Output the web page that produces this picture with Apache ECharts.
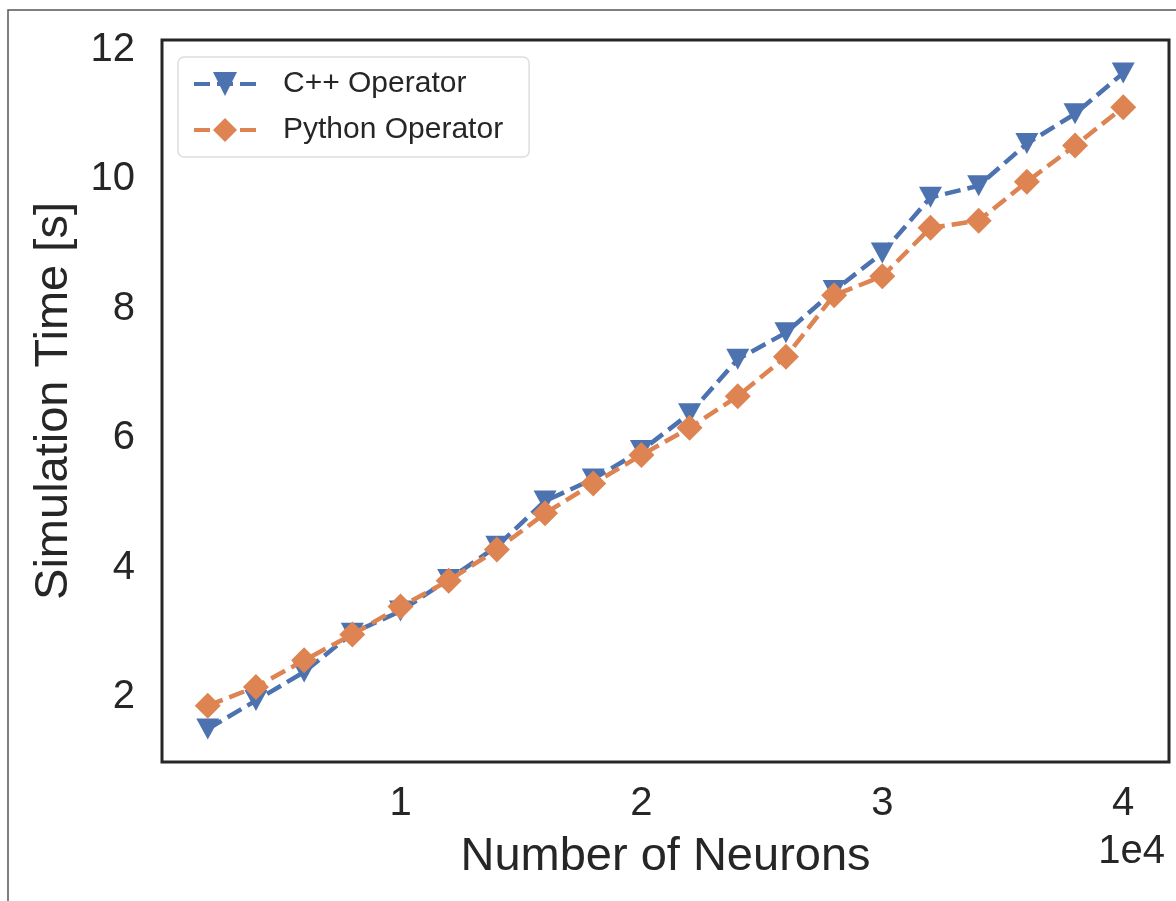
<!DOCTYPE html>
<html>
<head>
<meta charset="utf-8">
<title>Simulation Time vs Number of Neurons</title>
<script src="https://cdn.jsdelivr.net/npm/echarts@6/dist/echarts.min.js"></script>
<style>
  html, body { margin: 0; padding: 0; background: #ffffff; }
  #chart { width: 1176px; height: 901px; }
</style>
</head>
<body>
<div id="chart"></div>
<script>
// Network sizes and measured simulation times
const neurons = [2000, 4000, 6000, 8000, 10000, 12000, 14000, 16000, 18000, 20000,
                 22000, 24000, 26000, 28000, 30000, 32000, 34000, 36000, 38000, 40000];
const cppTime = [1.51, 1.95, 2.39, 2.99, 3.33, 3.82, 4.33, 5.03, 5.37, 5.81,
                 6.38, 7.22, 7.63, 8.28, 8.86, 9.72, 9.90, 10.55, 11.01, 11.64];
const pyTime  = [1.87, 2.16, 2.57, 2.97, 3.40, 3.80, 4.28, 4.84, 5.30, 5.74,
                 6.16, 6.65, 7.26, 8.21, 8.50, 9.25, 9.36, 9.96, 10.52, 11.11];
const xTicks = [10000, 20000, 30000, 40000];
const yTicks = [2, 4, 6, 8, 10, 12];
const seriesNames = ['C++ Operator', 'Python Operator'];

const FONT = '"Liberation Sans", Arial, Helvetica, sans-serif';
const INK = '#262626';
const BLUE = '#4C72B0';
const ORANGE = '#DD8452';
const DASH = [16, 7];

const pairs = (xs, ys) => xs.map((x, i) => [x, ys[i]]);

const chart = echarts.init(document.getElementById('chart'), null, { renderer: 'canvas' });

chart.setOption({
  animation: false,
  backgroundColor: '#ffffff',
  textStyle: { fontFamily: FONT, color: INK },
  grid: {
    left: 162, top: 40, right: 7, bottom: 139,
    show: true, borderColor: INK, borderWidth: 3, backgroundColor: 'transparent'
  },
  graphic: [
    {
      type: 'rect', silent: true, z: -1,
      shape: { x: 8, y: 10, width: 1300, height: 1000 },
      style: { fill: 'none', stroke: '#555555', lineWidth: 1.5 }
    },
    {
      type: 'text', right: 11, top: 832, silent: true,
      style: { text: '1e4', font: '40px ' + FONT, fill: INK }
    }
  ],
  legend: {
    data: seriesNames,
    orient: 'vertical',
    left: 178, top: 57,
    padding: [12, 26, 12, 14],
    itemGap: 16,
    itemWidth: 62, itemHeight: 30,
    lineStyle: { width: 4 },
    backgroundColor: 'rgba(255,255,255,0.8)',
    borderColor: '#dddddd', borderWidth: 1.5, borderRadius: 6,
    textStyle: { fontFamily: FONT, fontSize: 30, color: INK, lineHeight: 30, padding: [0, 0, 0, 22] }
  },
  xAxis: {
    type: 'value',
    min: 100, max: 41900,
    name: 'Number of Neurons',
    nameLocation: 'middle', nameGap: 72,
    nameTextStyle: { fontFamily: FONT, fontSize: 47, color: INK },
    axisLine: { show: false },
    axisTick: { show: false },
    splitLine: { show: false },
    axisLabel: {
      customValues: xTicks,
      formatter: v => String(v / 10000),
      fontFamily: FONT, fontSize: 40, color: INK, margin: 22
    }
  },
  yAxis: {
    type: 'value',
    min: 1.0, max: 12.15,
    name: 'Simulation Time [s]',
    nameLocation: 'middle', nameGap: 84,
    nameTextStyle: { fontFamily: FONT, fontSize: 47, color: INK },
    axisLine: { show: false },
    axisTick: { show: false },
    splitLine: { show: false },
    axisLabel: {
      customValues: yTicks,
      formatter: v => String(v),
      fontFamily: FONT, fontSize: 40, color: INK, margin: 27
    }
  },
  series: [
    {
      name: seriesNames[0],
      type: 'line',
      data: pairs(neurons, cppTime),
      symbol: 'triangle', symbolRotate: 180, symbolSize: [23, 21],
      showAllSymbol: true,
      color: BLUE,
      itemStyle: { color: BLUE },
      lineStyle: { color: BLUE, width: 4.5, type: DASH },
      z: 2
    },
    {
      name: seriesNames[1],
      type: 'line',
      data: pairs(neurons, pyTime),
      symbol: 'diamond', symbolSize: [26, 26],
      showAllSymbol: true,
      color: ORANGE,
      itemStyle: { color: ORANGE },
      lineStyle: { color: ORANGE, width: 4.5, type: DASH },
      z: 3
    }
  ]
});
</script>
</body>
</html>
